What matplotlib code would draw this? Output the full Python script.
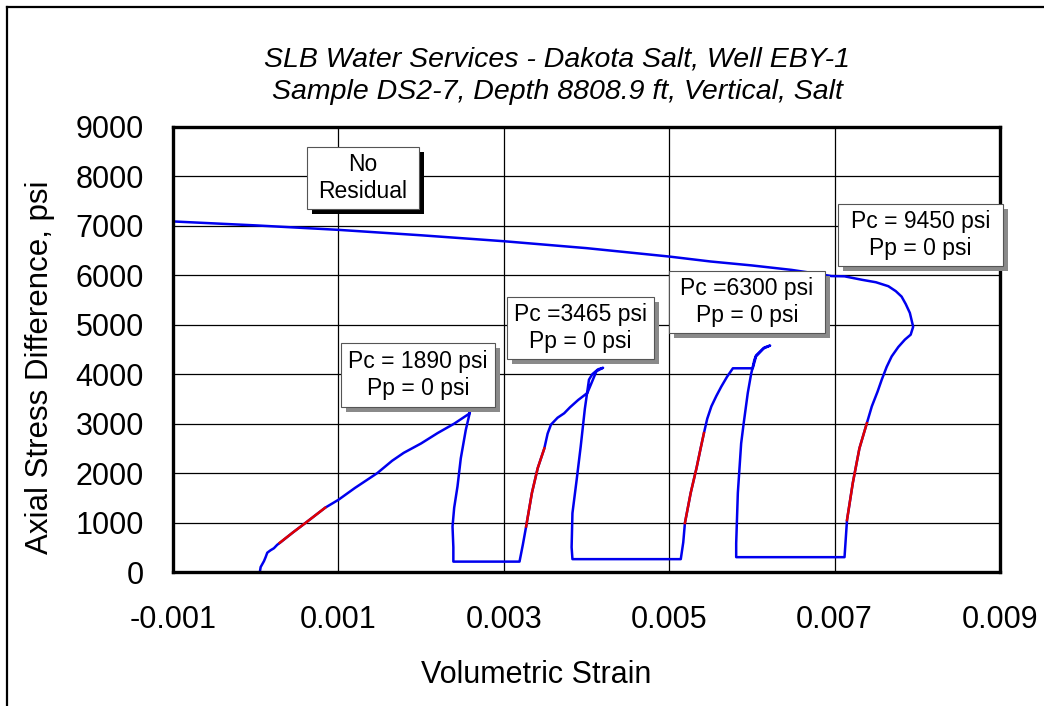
import matplotlib
matplotlib.use("Agg")
import matplotlib.pyplot as plt
from matplotlib.patches import Rectangle
from matplotlib.lines import Line2D
import numpy as np

plt.rcParams['font.family'] = ['Liberation Sans', 'DejaVu Sans']
plt.rcParams['axes.unicode_minus'] = False

# loading cycles: strain, axial stress difference (psi)
cycle1_strain = [0.00005, 0.00006, 0.00010, 0.00012, 0.00014, 0.00018, 0.00022, 0.00026, 0.00030,
                 0.00045, 0.00060, 0.00084, 0.00100, 0.00120, 0.00147, 0.00165, 0.00179, 0.00200,
                 0.00220, 0.00240, 0.00258, 0.00259, 0.00254, 0.00248, 0.00244, 0.00240, 0.00238,
                 0.00239, 0.00239]
cycle1_stress = [0, 100, 220, 300, 390, 440, 480, 550, 600,
                 800, 990, 1300, 1460, 1700, 2000, 2250, 2410, 2600,
                 2810, 3000, 3200, 3230, 2870, 2300, 1730, 1300, 920,
                 500, 210]

cycle2_strain = [0.00319, 0.00323, 0.00327, 0.00334, 0.00341, 0.00349, 0.00353, 0.00357, 0.00365,
                 0.00373, 0.00380, 0.00390, 0.00401, 0.00408, 0.00412, 0.00420, 0.00414, 0.00407,
                 0.00403, 0.00398, 0.00393, 0.00388, 0.00383, 0.00382, 0.00383]
cycle2_stress = [210, 550, 920, 1600, 2100, 2500, 2800, 2980, 3120,
                 3210, 3330, 3480, 3620, 3900, 4060, 4130, 4100, 4000,
                 3890, 3300, 2540, 1850, 1190, 500, 260]

cycle3_strain = [0.00514, 0.00517, 0.00519, 0.00526, 0.00533, 0.00538, 0.00542, 0.00546, 0.00551,
                 0.00557, 0.00563, 0.00570, 0.00577, 0.00601, 0.00605, 0.00614, 0.00622, 0.00615,
                 0.00605, 0.00603, 0.00599, 0.00595, 0.00590, 0.00587, 0.00583, 0.00581, 0.00581]
cycle3_stress = [260, 600, 990, 1600, 2100, 2500, 2810, 3100, 3350,
                 3560, 3750, 3950, 4120, 4120, 4360, 4520, 4580, 4540,
                 4380, 4290, 4000, 3620, 3000, 2600, 1600, 580, 300]

cycle4_strain = [0.00712, 0.00715, 0.00722, 0.00730, 0.00739, 0.00745, 0.00752, 0.00757, 0.00763,
                 0.00769, 0.00777, 0.00785, 0.00792, 0.00795, 0.00793, 0.00791, 0.00786, 0.00781,
                 0.00774, 0.00765, 0.00750, 0.00733, 0.00712, 0.00696, 0.00680, 0.00648, 0.00600,
                 0.00550, 0.00500, 0.00400, 0.00300, 0.00200, 0.00100, 0.00000, -0.00100]
cycle4_stress = [300, 1050, 1800, 2500, 3010, 3350, 3650, 3890, 4150,
                 4360, 4550, 4700, 4800, 4960, 5100, 5240, 5420, 5570,
                 5680, 5780, 5860, 5910, 5980, 5985, 6030, 6110, 6200,
                 6280, 6380, 6550, 6690, 6810, 6920, 7010, 7090]

# linear fit sections (red)
fit1_strain = [0.00029, 0.00045, 0.00060, 0.00084]
fit1_stress = [590, 800, 990, 1300]
fit2_strain = [0.00327, 0.00334, 0.00341, 0.00349]
fit2_stress = [920, 1600, 2100, 2500]
fit3_strain = [0.00519, 0.00526, 0.00533, 0.00538, 0.00542]
fit3_stress = [990, 1600, 2100, 2500, 2810]
fit4_strain = [0.00715, 0.00722, 0.00730, 0.00739]
fit4_stress = [1050, 1800, 2500, 3010]

x_ticks = [-0.001, 0.001, 0.003, 0.005, 0.007, 0.009]
x_tick_labels = ['-0.001', '0.001', '0.003', '0.005', '0.007', '0.009']
y_ticks = list(range(0, 10000, 1000))

W, H = 1044, 706
fig = plt.figure(figsize=(W / 100, H / 100), dpi=100)
ax = fig.add_axes([173 / W, 1 - 572 / H, 827 / W, 445 / H])

strain = np.concatenate([cycle1_strain, cycle2_strain, cycle3_strain, cycle4_strain])
stress = np.concatenate([cycle1_stress, cycle2_stress, cycle3_stress, cycle4_stress])
ax.plot(strain, stress, color='#0000ee', lw=1.8, zorder=3)
for fx, fy in [(fit1_strain, fit1_stress), (fit2_strain, fit2_stress),
               (fit3_strain, fit3_stress), (fit4_strain, fit4_stress)]:
    ax.plot(fx, fy, color='#e00000', lw=1.8, zorder=4)

ax.set_xlim(-0.001, 0.009)
ax.set_ylim(0, 9000)
ax.set_xticks(x_ticks)
ax.set_xticklabels(x_tick_labels)
ax.set_yticks(y_ticks)
ax.tick_params(length=0, labelsize=22)
ax.tick_params(axis='x', pad=24)
ax.tick_params(axis='y', pad=21)
ax.grid(True, color='black', lw=0.9)
ax.set_axisbelow(True)
for s in ax.spines.values():
    s.set_linewidth(2.4)
    s.set_zorder(6)

# annotation boxes: (x0, x1, y0, y1, text, shadow colour)
boxes = [
    (0.000624, 0.00197, 7342, 8596, 'No\nResidual', 'black'),
    (0.001036, 0.00289, 3337, 4632, 'Pc = 1890 psi\nPp = 0 psi', '#8a8a8a'),
    (0.00304, 0.00482, 4308, 5562, 'Pc =3465 psi\nPp = 0 psi', '#8a8a8a'),
    (0.0050, 0.00688, 4834, 6088, 'Pc =6300 psi\nPp = 0 psi', '#8a8a8a'),
    (0.00704, 0.00904, 6189, 7443, 'Pc = 9450 psi\nPp = 0 psi', '#8a8a8a'),
]
dx, dy = 0.00006, 100
for x0, x1, y0, y1, txt, sh in boxes:
    ax.add_patch(Rectangle((x0 + dx, y0 - dy), x1 - x0, y1 - y0, facecolor=sh,
                           edgecolor='none', zorder=7, clip_on=False))
    ax.add_patch(Rectangle((x0, y0), x1 - x0, y1 - y0, facecolor='white',
                           edgecolor='#555555', lw=0.8, zorder=8, clip_on=False))
    ax.text((x0 + x1) / 2, (y0 + y1) / 2, txt, ha='center', va='center',
            fontsize=16.5, linespacing=1.2, zorder=9)

fig.text(557 / W, 1 - 60 / H, 'SLB Water Services - Dakota Salt, Well EBY-1',
         ha='center', va='center', fontsize=20.5, style='italic')
fig.text(557 / W, 1 - 92 / H, 'Sample DS2-7, Depth 8808.9 ft, Vertical, Salt',
         ha='center', va='center', fontsize=20.5, style='italic')
fig.text(536 / W, 1 - 683 / H, 'Volumetric Strain', ha='center', va='baseline', fontsize=22)
fig.text(40 / W, 1 - 367 / H, 'Axial Stress Difference, psi', ha='center', va='center',
         rotation=90, fontsize=22.5)

# outer frame (top and left edges)
fig.add_artist(Line2D([7 / W, 1], [1 - 7 / H, 1 - 7 / H], color='black', lw=1.6))
fig.add_artist(Line2D([7 / W, 7 / W], [0, 1 - 7 / H], color='black', lw=1.6))

fig.savefig('out.png', dpi=100)
